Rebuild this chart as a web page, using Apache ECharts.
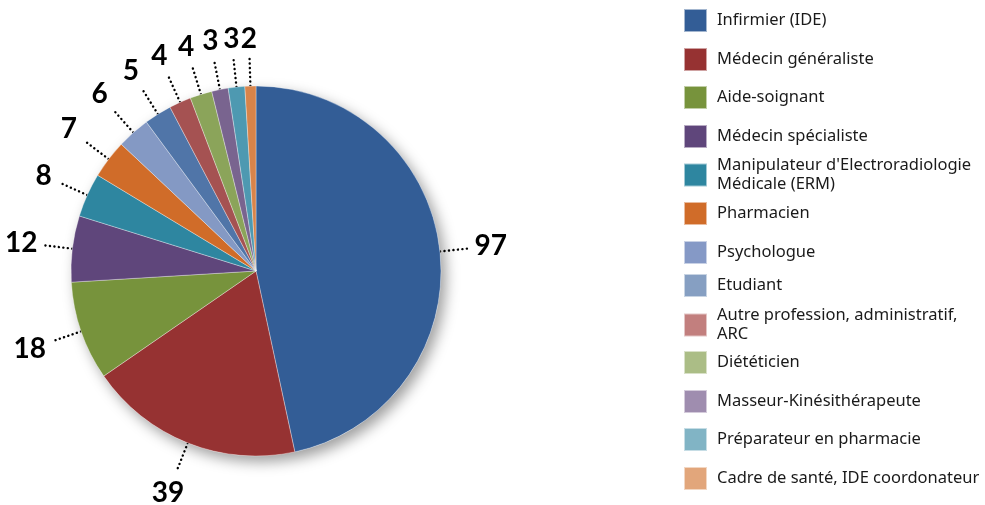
<!DOCTYPE html>
<html>
<head>
<meta charset="utf-8">
<script src="https://cdn.jsdelivr.net/npm/echarts@6/dist/echarts.min.js"></script>
<style>
  html, body { margin: 0; padding: 0; background: #ffffff; }
  #chart { width: 985px; height: 505px; }
</style>
</head>
<body>
<div id="chart"></div>
<script>
// Professions of respondents and their counts
const categories = [
  "Infirmier (IDE)",
  "Médecin généraliste",
  "Aide-soignant",
  "Médecin spécialiste",
  "Manipulateur d'Electroradiologie Médicale (ERM)",
  "Pharmacien",
  "Psychologue",
  "Etudiant",
  "Autre profession, administratif, ARC",
  "Diététicien",
  "Masseur-Kinésithérapeute",
  "Préparateur en pharmacie",
  "Cadre de santé, IDE coordonateur"
];
const legendLabels = [
  "Infirmier (IDE)",
  "Médecin généraliste",
  "Aide-soignant",
  "Médecin spécialiste",
  "Manipulateur d'Electroradiologie\nMédicale (ERM)",
  "Pharmacien",
  "Psychologue",
  "Etudiant",
  "Autre profession, administratif,\nARC",
  "Diététicien",
  "Masseur-Kinésithérapeute",
  "Préparateur en pharmacie",
  "Cadre de santé, IDE coordonateur"
];
const values = [97, 39, 18, 12, 8, 7, 6, 5, 4, 4, 3, 3, 2];

// Slice fills and the (lighter) legend swatch fills
const sliceColors = [
  "#335d96", "#963232", "#77933c", "#5f467b", "#2e86a0", "#d06c29",
  "#8499c4", "#5075a8", "#a55252", "#8ba45a", "#79648f", "#4e99b1", "#d8844a"
];
const legendColors = [
  "#335d96", "#963232", "#77933c", "#5f467b", "#2e86a0", "#d06c29",
  "#8599c6", "#869fc2", "#c27f7e", "#abbd86", "#9f8daf", "#81b4c5", "#e2a67b"
];

// Layout
const PIE_CENTER = [256, 271];
const PIE_RADIUS = 185;
const LEGEND_LEFT = 683;
const LEGEND_ROWS = [19.5, 58.5, 96.5, 135.5, 175, 212.5, 251.5, 284.5, 325, 361.5, 400.5, 438.5, 477.5];
const LEGEND_LINE_H = 19;
const DIGIT_HALF_H = 10;   // half the visible height of the value digits
const GAP_SIDE = 5;        // space between leader line end and a label beside it
const GAP_END = 9;         // space between leader line end and a label above/below it

const chart = echarts.init(document.getElementById('chart'), null, { renderer: 'canvas' });

const legends = categories.map((name, i) => {
  const lines = legendLabels[i].split('\n').length;
  const half = Math.max(11.5, lines * LEGEND_LINE_H / 2);
  return {
    show: true,
    orient: 'vertical',
    left: LEGEND_LEFT,
    top: LEGEND_ROWS[i] - half,
    padding: 0,
    itemWidth: 23,
    itemHeight: 23,
    icon: 'rect',
    selectedMode: false,
    data: [{ name: name, itemStyle: { color: legendColors[i] } }],
    formatter: () => legendLabels[i],
    textStyle: {
      fontFamily: 'Noto Sans',
      fontSize: 16.5,
      color: '#1a1a1a',
      lineHeight: LEGEND_LINE_H,
      padding: [0, 0, 0, 5]
    }
  };
});

// Places each value label just beyond the end of its radial leader line
function placeLabel(p) {
  const pts = p.labelLinePoints;
  if (!pts) return {};
  const a = pts[0], b = pts[1];
  const dx = b[0] - a[0], dy = b[1] - a[1];
  const len = Math.hypot(dx, dy) || 1;
  const ux = dx / len, uy = dy / len;
  const w = p.labelRect.width;
  const ax = Math.abs(ux), ay = Math.abs(uy);
  const k = ax * (GAP_SIDE + w / 2) + ay * (GAP_END + DIGIT_HALF_H);
  return {
    x: b[0] + ux * k,
    y: b[1] + uy * k,
    align: 'center',
    verticalAlign: 'middle',
    labelLinePoints: [a, b, b]
  };
}

const option = {
  backgroundColor: '#ffffff',
  animation: false,
  legend: legends,
  series: [
    {
      // soft drop shadow under the whole pie
      type: 'pie',
      silent: true,
      center: PIE_CENTER,
      radius: PIE_RADIUS,
      label: { show: false },
      labelLine: { show: false },
      data: [{
        value: 1,
        name: '',
        itemStyle: {
          color: '#ffffff',
          shadowBlur: 14,
          shadowColor: 'rgba(0,0,0,0.38)',
          shadowOffsetX: 5,
          shadowOffsetY: 6
        }
      }]
    },
    {
      type: 'pie',
      center: PIE_CENTER,
      radius: PIE_RADIUS,
      startAngle: 90,
      clockwise: true,
      avoidLabelOverlap: false,
      itemStyle: {
        borderColor: 'rgba(255,255,255,0.55)',
        borderWidth: 0.6
      },
      label: {
        show: true,
        position: 'outside',
        formatter: '{c}',
        fontFamily: 'Lato',
        fontWeight: 'bold',
        fontSize: 28,
        color: '#000000'
      },
      labelLine: {
        show: true,
        length: 28,
        length2: 0,
        smooth: false,
        lineStyle: {
          color: '#000000',
          width: 2.4,
          type: [0.1, 4.4],
          cap: 'round'
        }
      },
      labelLayout: placeLabel,
      data: categories.map((name, i) => ({
        name: name,
        value: values[i],
        itemStyle: { color: sliceColors[i] }
      }))
    }
  ]
};

chart.setOption(option);
</script>
</body>
</html>
